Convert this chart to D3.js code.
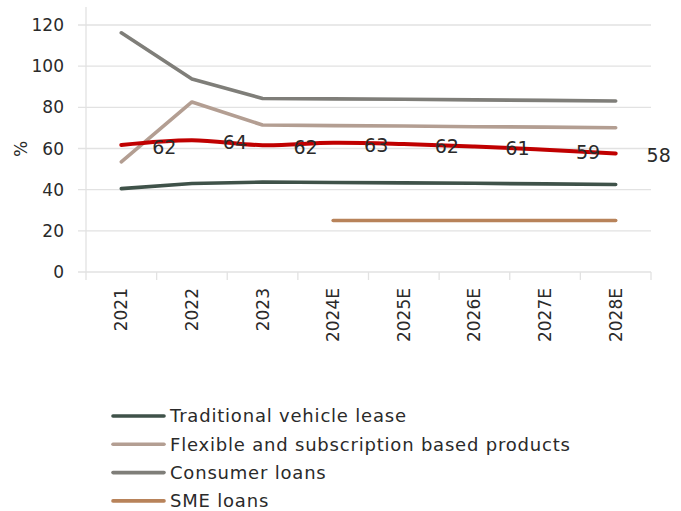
<!DOCTYPE html>
<html><head><meta charset="utf-8">
<script src="https://cdn.jsdelivr.net/npm/d3@7/dist/d3.min.js"></script>
<style>
body{margin:0;background:#fff;}
svg text{font-family:"DejaVu Sans",sans-serif;font-weight:normal;fill:#2a2a2a;}
</style></head>
<body><svg id="c" width="681" height="511"></svg>
<script>
const categories = ["2021","2022","2023","2024E","2025E","2026E","2027E","2028E"];
const traditionalLease = [40.5, 43.0, 43.7, 43.5, 43.3, 43.1, 42.8, 42.5];
const flexibleProducts = [53.5, 82.6, 71.4, 71.1, 70.9, 70.6, 70.4, 70.1];
const consumerLoans = [116.2, 93.8, 84.3, 84.1, 83.9, 83.6, 83.4, 83.1];
const smeLoans = [null, null, null, 25, 25, 25, 25, 25];
const totalSeries = [61.7, 64.0, 61.6, 62.8, 62.2, 61.0, 59.4, 57.6];
const totalLabels = ["62","64","62","63","62","61","59","58"];
const yTicks = [0,20,40,60,80,100,120];
const seriesNames = ["Traditional vehicle lease","Flexible and subscription based products","Consumer loans","SME loans"];
const seriesColors = ["#3f5249","#b39e92","#7f7e79","#b8835a"];

const svg = d3.select("#c");
const x = d3.scaleBand().domain(categories).range([86, 651]);
const y = d3.scaleLinear().domain([0, 120]).range([272, 25]);
const FS = 17;

svg.append("g").selectAll("line").data(yTicks).join("line")
  .attr("x1", 78).attr("x2", 651)
  .attr("y1", d => y(d)).attr("y2", d => y(d))
  .attr("stroke", "#e2e2e2").attr("stroke-width", 1.3);
svg.append("line").attr("x1",86).attr("x2",86).attr("y1",7).attr("y2",280)
  .attr("stroke","#e2e2e2").attr("stroke-width",1.3);
const bounds = categories.map(c => x(c)).concat([651]).slice(1);
svg.append("g").selectAll("line").data(bounds).join("line")
  .attr("x1", d=>d).attr("x2", d=>d).attr("y1", 272).attr("y2", 280)
  .attr("stroke","#e2e2e2").attr("stroke-width",1.3);

svg.append("g").selectAll("text").data(yTicks).join("text")
  .attr("x", 64).attr("y", d => y(d)).attr("dy","0.36em")
  .attr("text-anchor","end").attr("font-size", FS).text(d => d);
svg.append("text").attr("transform","translate(27,149) rotate(-90)")
  .attr("text-anchor","middle").attr("font-size",FS).text("%");
svg.append("g").selectAll("text").data(categories).join("text")
  .attr("transform", d => `translate(${x(d)+x.bandwidth()/2+6},288) rotate(-90)`)
  .attr("text-anchor","end").attr("font-size",FS).text(d => d);

const cx = d => x(d) + x.bandwidth()/2;
const line = d3.line().defined(d => d[1] != null).x(d => cx(d[0])).y(d => y(d[1]));
const series = [traditionalLease, flexibleProducts, consumerLoans, smeLoans];
series.forEach((s,i) => {
  svg.append("path").datum(categories.map((c,j)=>[c,s[j]]))
    .attr("d", line).attr("fill","none").attr("stroke", seriesColors[i])
    .attr("stroke-width", 3.6).attr("stroke-linecap","round").attr("stroke-linejoin","round");
});
const smooth = d3.line().curve(d3.curveCatmullRom.alpha(0.5)).x(d => cx(d[0])).y(d => y(d[1]));
svg.append("path").datum(categories.map((c,j)=>[c,totalSeries[j]]))
  .attr("d", smooth).attr("fill","none").attr("stroke","#c00000")
  .attr("stroke-width",4).attr("stroke-linecap","round");
svg.append("g").selectAll("text").data(categories).join("text")
  .attr("x", d => cx(d) + 43).attr("y", (d,i) => y(totalSeries[i]) + 2)
  .attr("dy","0.36em").attr("text-anchor","middle").attr("font-size",19)
  .text((d,i) => totalLabels[i]);

const lg = svg.append("g").selectAll("g").data(seriesNames).join("g")
  .attr("transform", (d,i) => `translate(0,${416 + i*28.3})`);
lg.append("line").attr("x1",113).attr("x2",164).attr("y1",0).attr("y2",0)
  .attr("stroke",(d,i)=>seriesColors[i]).attr("stroke-width",3.6).attr("stroke-linecap","round");
lg.append("text").attr("x",170).attr("y",0).attr("dy","0.36em").attr("font-size",18)
  .attr("letter-spacing", 0.8).text(d=>d);
</script></body></html>
